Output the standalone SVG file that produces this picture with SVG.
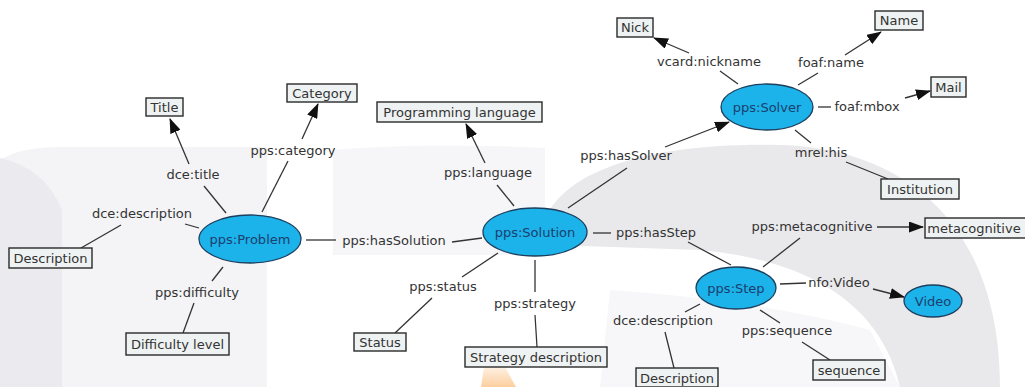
<svg xmlns="http://www.w3.org/2000/svg" width="1025" height="387" viewBox="0 0 1025 387">
  <style>
    .lbl { font-family: "DejaVu Sans", Verdana, sans-serif; font-size: 13px; fill: #333; text-anchor: middle; }
    .res { fill: #1cb2ea; stroke: #1d3f5e; stroke-width: 1.3; }
    .resT { font-family: "DejaVu Sans", Verdana, sans-serif; font-size: 13px; fill: #1b3f6e; text-anchor: middle; }
    .lit { fill: #eef2f2; stroke: #2a2a2a; stroke-width: 1.4; }
    .edge { stroke: #333; stroke-width: 1.3; fill: none; }
    .arr { marker-end: url(#head); }
  </style>
  <defs>
    <marker id="head" markerWidth="15" markerHeight="11" refX="14" refY="5.5" orient="auto" markerUnits="userSpaceOnUse">
      <path d="M0,0 L15,5.5 L0,11 Z" fill="#111"/>
    </marker>
    <linearGradient id="orange" x1="0" y1="0" x2="0" y2="1">
      <stop offset="0" stop-color="#fff1e3"/>
      <stop offset="1" stop-color="#fbcf9f"/>
    </linearGradient>
  </defs>

  <!-- faint backdrop shapes -->
  <rect width="1025" height="387" fill="#ffffff"/>
  <g id="backdrop">
    <path d="M0,160 Q20,147 62,147 L267,147 L267,387 L0,387 Z" fill="#f4f4f6"/>
    <path d="M0,158 Q45,168 62,210 L62,387 L0,387 Z" fill="#ebebef"/>
    <path d="M333,150 Q420,142 545,148 L545,255 L333,255 Z" fill="#f6f6f8"/>
    <path d="M610,290 Q760,300 870,330 L900,387 L600,387 Z" fill="#f7f7f9"/>
    <path d="M540,245 C540,175 640,142 780,145 C905,148 1000,225 1000,387 L900,387 C885,320 830,262 700,250 L583,246 Z" fill="#e9e9ec"/>
    <path d="M484,367 L505,367 L516,387 L481,387 Z" fill="url(#orange)"/>
  </g>

  <!-- connectors with their labels -->
  <g id="connectors">
    <!-- dce:title -->
    <line class="edge" x1="226" y1="213" x2="204" y2="186"/>
    <line class="edge arr" x1="189" y1="164" x2="170" y2="119"/>
    <text class="lbl" x="193" y="179">dce:title</text>
    <!-- pps:category -->
    <line class="edge" x1="262" y1="212" x2="288" y2="161"/>
    <line class="edge arr" x1="302" y1="139" x2="318" y2="104"/>
    <text class="lbl" x="293" y="155">pps:category</text>
    <!-- dce:description (Problem) -->
    <line class="edge" x1="199" y1="228" x2="185" y2="224"/>
    <line class="edge" x1="121" y1="225" x2="81" y2="248"/>
    <text class="lbl" x="142" y="218">dce:description</text>
    <!-- pps:difficulty -->
    <line class="edge" x1="223" y1="267" x2="212" y2="281"/>
    <line class="edge" x1="194" y1="303" x2="183" y2="333"/>
    <text class="lbl" x="197" y="297">pps:difficulty</text>
    <!-- pps:hasSolution -->
    <line class="edge" x1="306" y1="240" x2="336" y2="240"/>
    <line class="edge" x1="452" y1="242" x2="482" y2="238"/>
    <text class="lbl" x="394" y="245">pps:hasSolution</text>
    <!-- pps:language -->
    <line class="edge" x1="514" y1="206" x2="497" y2="185"/>
    <line class="edge arr" x1="485" y1="163" x2="466" y2="124"/>
    <text class="lbl" x="488" y="177">pps:language</text>
    <!-- pps:hasSolver -->
    <line class="edge" x1="568" y1="208" x2="627" y2="168"/>
    <line class="edge arr" x1="665" y1="147" x2="729" y2="122"/>
    <text class="lbl" x="626" y="160">pps:hasSolver</text>
    <!-- pps:hasStep -->
    <line class="edge" x1="593" y1="233" x2="611" y2="233"/>
    <line class="edge" x1="688" y1="242" x2="731" y2="265"/>
    <text class="lbl" x="656" y="237">pps:hasStep</text>
    <!-- pps:status -->
    <line class="edge" x1="498" y1="253" x2="462" y2="277"/>
    <line class="edge" x1="432" y1="298" x2="395" y2="333"/>
    <text class="lbl" x="443" y="291">pps:status</text>
    <!-- pps:strategy -->
    <line class="edge" x1="535" y1="260" x2="535" y2="292"/>
    <line class="edge" x1="535" y1="315" x2="537" y2="347"/>
    <text class="lbl" x="535" y="308">pps:strategy</text>
    <!-- vcard:nickname -->
    <line class="edge" x1="738" y1="84" x2="720" y2="71"/>
    <line class="edge arr" x1="689" y1="53" x2="654" y2="38"/>
    <text class="lbl" x="709" y="66">vcard:nickname</text>
    <!-- foaf:name -->
    <line class="edge" x1="798" y1="85" x2="818" y2="73"/>
    <line class="edge arr" x1="845" y1="55" x2="881" y2="32"/>
    <text class="lbl" x="831" y="67">foaf:name</text>
    <!-- foaf:mbox -->
    <line class="edge" x1="818" y1="107" x2="831" y2="107"/>
    <line class="edge arr" x1="905" y1="98" x2="930" y2="91"/>
    <text class="lbl" x="867" y="111">foaf:mbox</text>
    <!-- mrel:his -->
    <line class="edge" x1="795" y1="130" x2="811" y2="143"/>
    <line class="edge" x1="846" y1="162" x2="888" y2="179"/>
    <text class="lbl" x="821" y="157">mrel:his</text>
    <!-- pps:metacognitive -->
    <line class="edge" x1="763" y1="267" x2="800" y2="238"/>
    <line class="edge arr" x1="877" y1="227" x2="923" y2="227"/>
    <text class="lbl" x="812" y="231">pps:metacognitive</text>
    <!-- nfo:Video -->
    <line class="edge" x1="780" y1="284" x2="806" y2="283"/>
    <line class="edge arr" x1="873" y1="289" x2="904" y2="297"/>
    <text class="lbl" x="839" y="287">nfo:Video</text>
    <!-- dce:description (Step) -->
    <line class="edge" x1="700" y1="304" x2="685" y2="312"/>
    <line class="edge" x1="665" y1="332" x2="674" y2="368"/>
    <text class="lbl" x="663" y="325">dce:description</text>
    <!-- pps:sequence -->
    <line class="edge" x1="760" y1="310" x2="780" y2="323"/>
    <line class="edge" x1="802" y1="342" x2="830" y2="360"/>
    <text class="lbl" x="787" y="335">pps:sequence</text>
  </g>

  <!-- resource nodes -->
  <g id="problem"><ellipse class="res" cx="250" cy="239" rx="51" ry="24"/><text class="resT" x="250" y="243.5">pps:Problem</text></g>
  <g id="solution"><ellipse class="res" cx="535" cy="232" rx="52" ry="24"/><text class="resT" x="535" y="236.5">pps:Solution</text></g>
  <g id="solver"><ellipse class="res" cx="767" cy="107" rx="46" ry="23"/><text class="resT" x="767" y="111.5">pps:Solver</text></g>
  <g id="step"><ellipse class="res" cx="736" cy="288" rx="40" ry="21"/><text class="resT" x="736" y="292.5">pps:Step</text></g>
  <g id="video"><ellipse class="res" cx="933" cy="301" rx="29" ry="16"/><text class="resT" x="933" y="305.5">Video</text></g>

  <!-- literal nodes -->
  <g id="title"><rect class="lit" x="146" y="98" width="37" height="18"/><text class="lbl" x="164.5" y="111.5">Title</text></g>
  <g id="category"><rect class="lit" x="287" y="84" width="70" height="18"/><text class="lbl" x="322" y="97.5">Category</text></g>
  <g id="description1"><rect class="lit" x="9" y="248" width="83" height="20"/><text class="lbl" x="50.5" y="262.5">Description</text></g>
  <g id="difficulty"><rect class="lit" x="126" y="333" width="103" height="22"/><text class="lbl" x="177.5" y="348.5">Difficulty level</text></g>
  <g id="proglang"><rect class="lit" x="377" y="102" width="165" height="20"/><text class="lbl" x="459.5" y="116.5">Programming language</text></g>
  <g id="status"><rect class="lit" x="354" y="333" width="52" height="18"/><text class="lbl" x="380" y="346.5">Status</text></g>
  <g id="strategy"><rect class="lit" x="465" y="347" width="142" height="20"/><text class="lbl" x="536" y="361.5">Strategy description</text></g>
  <g id="nick"><rect class="lit" x="617" y="18" width="36" height="19"/><text class="lbl" x="635" y="32">Nick</text></g>
  <g id="name"><rect class="lit" x="875" y="11" width="48" height="19"/><text class="lbl" x="899" y="25">Name</text></g>
  <g id="mail"><rect class="lit" x="931" y="77" width="35" height="20"/><text class="lbl" x="948.5" y="91.5">Mail</text></g>
  <g id="institution"><rect class="lit" x="881" y="179" width="78" height="20"/><text class="lbl" x="920" y="193.5">Institution</text></g>
  <g id="metacognitive"><rect class="lit" x="925" y="218" width="101" height="20"/><text class="lbl" x="974" y="232.5">metacognitive</text></g>
  <g id="description2"><rect class="lit" x="636" y="368" width="82" height="19"/><text class="lbl" x="677" y="382.5">Description</text></g>
  <g id="sequence"><rect class="lit" x="813" y="360" width="72" height="20"/><text class="lbl" x="849" y="374.5">sequence</text></g>
</svg>
